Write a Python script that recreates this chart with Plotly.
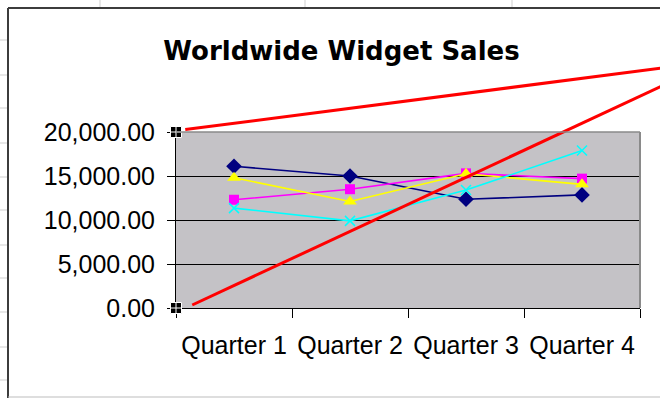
import plotly.graph_objects as go

# ---------------- data ----------------
quarters = ["Quarter 1", "Quarter 2", "Quarter 3", "Quarter 4"]
series_navy = [16100, 15000, 12350, 12850]
series_magenta = [12300, 13500, 15300, 14700]
series_yellow = [14800, 12100, 15250, 14050]
series_cyan = [11350, 9900, 13400, 17900]
y_tick_values = [0, 5000, 10000, 15000, 20000]

# drawn red lines, in (category index, sales) units
red_upper_x = [-0.42, 3.7]
red_upper_y = [20280, 27290]
red_lower_x = [-0.36, 3.7]
red_lower_y = [340, 25300]
handle_x = [-0.5, -0.5]
handle_y = [20000, 0]

# ---------------- layout geometry ----------------
W, H = 660, 398
PL, PR, PT, PB = 176, 640, 132, 308  # plot area in pixels
X0, X1 = -0.5, 3.5
Y0, Y1 = 0, 20000
ux = (X1 - X0) / (PR - PL)
uy = (Y1 - Y0) / (PB - PT)
x2_range = [X0 - PL * ux, X1 + (W - PR) * ux]
y2_range = [Y0 - (H - PB) * uy, Y1 + PT * uy]


def px(x):
    return x / W


def py(y):
    return 1 - y / H


TICK_FONT = dict(family="Liberation Sans, Arial, sans-serif", size=25, color="#000000")

fig = go.Figure()

styles = [
    (series_navy, "Series 1", "#000080", dict(symbol="diamond", size=12, color="#000080")),
    (series_magenta, "Series 2", "#FF00FF", dict(symbol="square", size=10, color="#FF00FF")),
    (series_yellow, "Series 3", "#FFFF00", dict(symbol="triangle-up", size=12, color="#FFFF00")),
    (series_cyan, "Series 4", "#00FFFF",
     dict(symbol="x-thin-open", size=10, color="#00FFFF", line=dict(color="#00FFFF", width=1.5))),
]
for vals, name, col, mk in styles:
    fig.add_trace(go.Scatter(
        x=quarters, y=vals, name=name, mode="lines+markers",
        line=dict(color=col, width=1.6), marker=mk, cliponaxis=False,
        xaxis="x", yaxis="y", showlegend=False,
    ))

# red drawn lines on an overlay spanning the whole picture
fig.add_trace(go.Scatter(x=red_upper_x, y=red_upper_y, mode="lines",
                         line=dict(color="#FF0000", width=3),
                         xaxis="x2", yaxis="y2", showlegend=False))
fig.add_trace(go.Scatter(x=red_lower_x, y=red_lower_y, mode="lines",
                         line=dict(color="#FF0000", width=3),
                         xaxis="x2", yaxis="y2", showlegend=False))
fig.add_trace(go.Scatter(x=handle_x, y=handle_y, mode="markers",
                         marker=dict(symbol="square-cross", size=11, color="#000000",
                                     line=dict(color="#FFFFFF", width=1)),
                         xaxis="x2", yaxis="y2", showlegend=False))

shapes = [
    # plot area fill
    dict(type="rect", xref="x domain", yref="y domain", x0=0, x1=1, y0=0, y1=1,
         fillcolor="#C4C2C6", line=dict(width=0), layer="below"),
    # plot area grey border top/right
    dict(type="line", xref="x domain", yref="y domain", x0=0, x1=1, y0=1, y1=1,
         line=dict(color="#8A8A8A", width=1.5), layer="above"),
    dict(type="line", xref="x domain", yref="y domain", x0=1, x1=1, y0=0, y1=1,
         line=dict(color="#8A8A8A", width=2), layer="above"),
]
# spreadsheet gridlines outside the chart object
for yy in [40, 75, 108, 143, 177, 210, 245, 278, 312, 347, 380]:
    shapes.append(dict(type="line", xref="paper", yref="paper", x0=px(0), x1=px(8),
                       y0=py(yy), y1=py(yy), line=dict(color="#CFCFCF", width=1), layer="below"))
for xx in [100, 305, 512]:
    shapes.append(dict(type="line", xref="paper", yref="paper", x0=px(xx), x1=px(xx),
                       y0=py(0), y1=py(8), line=dict(color="#CFCFCF", width=1), layer="below"))
# chart object border
shapes.append(dict(type="line", xref="paper", yref="paper", x0=px(8), x1=px(8),
                   y0=py(8), y1=py(H), line=dict(color="#3C3C3C", width=2), layer="above"))
shapes.append(dict(type="line", xref="paper", yref="paper", x0=px(8), x1=px(W),
                   y0=py(8), y1=py(8), line=dict(color="#3C3C3C", width=2), layer="above"))
shapes.append(dict(type="line", xref="paper", yref="paper", x0=px(8), x1=px(W),
                   y0=py(397), y1=py(397), line=dict(color="#BDBDBD", width=1), layer="above"))

fig.update_layout(
    template="none",
    width=W, height=H, autosize=False,
    margin=dict(l=0, r=0, t=0, b=0, pad=0, autoexpand=False),
    paper_bgcolor="#FFFFFF", plot_bgcolor="rgba(0,0,0,0)",
    showlegend=False,
    title=dict(text="<b>Worldwide Widget Sales</b>",
               font=dict(family="DejaVu Sans, sans-serif", size=26, color="#000000"),
               x=341.5 / W, xanchor="center", xref="paper",
               y=py(50.5), yanchor="middle", yref="paper", automargin=False),
    xaxis=dict(domain=[px(PL), px(PR)], type="category", range=[X0, X1],
               showline=True, linecolor="#000000", linewidth=1,
               ticks="outside", ticklen=9, tickcolor="#000000", tickwidth=1,
               tickson="boundaries", showgrid=False, tickfont=TICK_FONT,
               ticklabelstandoff=15,
               anchor="y", fixedrange=True, automargin=False),
    yaxis=dict(domain=[py(PB), py(PT)], range=[Y0, Y1], tickvals=y_tick_values,
               tickformat=",.2f", showgrid=True, gridcolor="#000000", gridwidth=1,
               showline=True, linecolor="#000000", linewidth=1, zeroline=False,
               ticks="outside", ticklen=8, tickcolor="#000000", tickwidth=1,
               tickfont=TICK_FONT, ticklabelstandoff=7,
               anchor="x", fixedrange=True, automargin=False),
    xaxis2=dict(domain=[0, 1], range=x2_range, visible=False, anchor="y2",
                fixedrange=True, automargin=False),
    yaxis2=dict(domain=[0, 1], range=y2_range, visible=False, anchor="x2",
                fixedrange=True, automargin=False),
    shapes=shapes,
)

fig.write_html(
    "out.html",
    config={"displayModeBar": False, "responsive": False},
    post_script="document.body.style.margin='0';document.body.style.padding='0';",
)
